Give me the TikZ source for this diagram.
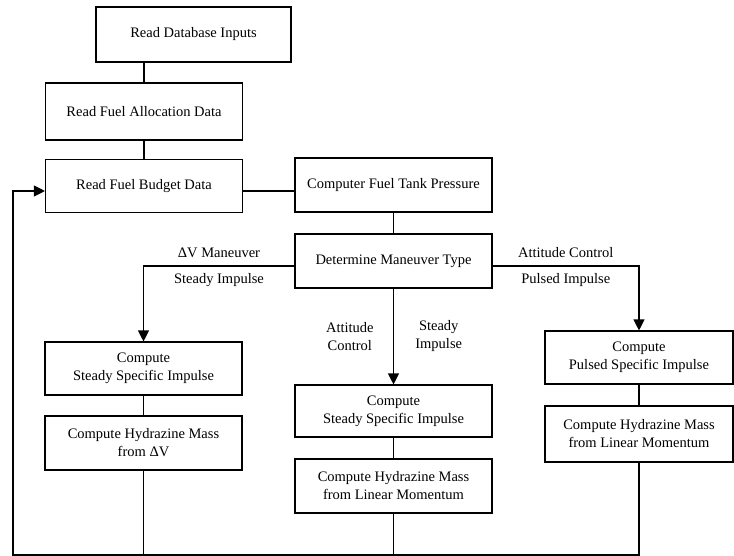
\documentclass[tikz,border=0pt]{standalone}
\usepackage{fontspec}
\setmainfont{Liberation Serif}
\usetikzlibrary{arrows.meta}

\begin{document}
\begin{tikzpicture}[x=1pt,y=-1pt,
  box/.style={draw, line width=1.1pt, minimum width=197pt, minimum height=54pt,
    align=center, inner sep=2pt, font=\fontsize{14.5}{18}\selectfont},
  lbl/.style={align=center, font=\fontsize{14.5}{18}\selectfont},
  flow/.style={line width=1.1pt},
  into/.style={flow, -{Triangle[length=11pt,width=11pt]}}]
  \useasboundingbox (0,0) rectangle (734,556);

  % draw the boxes of the upper column
  \node[box, minimum width=195pt, minimum height=55pt] (db) at (193.5,34.5) {Read Database Inputs};
  \node[box, minimum height=57pt] (alloc) at (144,111.5) {Read Fuel Allocation Data};
  \node[box, minimum height=53pt] (budget) at (144,186) {Read Fuel Budget Data};
  \node[box] (tank) at (393.5,185) {Computer Fuel Tank Pressure};
  \node[box] (type) at (393.5,261) {Determine Maneuver Type};

  % draw the three branches
  \node[box, minimum height=53pt] (lsteady) at (143.5,368.5) {Compute\\Steady Specific Impulse};
  \node[box] (lmass) at (143.5,443) {Compute Hydrazine Mass\\from ΔV};
  \node[box, minimum height=52pt] (csteady) at (393.5,411) {Compute\\Steady Specific Impulse};
  \node[box] (cmass) at (393.5,486) {Compute Hydrazine Mass\\from Linear Momentum};
  \node[box, minimum width=188pt, minimum height=53pt] (rpulsed) at (639,357.5) {Compute\\Pulsed Specific Impulse};
  \node[box, minimum width=188pt, minimum height=56pt] (rmass) at (639,434) {Compute Hydrazine Mass\\from Linear Momentum};
  \coordinate (ret) at (13,555);

  % connect them
  \draw[flow] (alloc.north) -- (alloc.north |- db.south);
  \draw[flow] (alloc) -- (budget);
  \draw[flow] ([yshift=-5pt]budget.east) -- ([yshift=-5pt]budget.east -| tank.west);
  \draw[flow] (tank) -- (type);
  \draw[into] ([yshift=-5pt]type.west) -| node[lbl, pos=0.25, above=4pt] {ΔV Maneuver}
    node[lbl, pos=0.25, below=4pt] {Steady Impulse} (lsteady.north);
  \draw[into] ([yshift=-5pt]type.east) -| node[lbl, pos=0.25, above=4pt] {Attitude Control}
    node[lbl, pos=0.25, below=4pt] {Pulsed Impulse} (rpulsed.north);
  \draw[into] (type) -- node[lbl, left=16pt] {Attitude\\Control}
    node[lbl, right=18pt] {Steady\\Impulse} (csteady);
  \draw[flow] (lsteady) -- (lmass);
  \draw[flow] (csteady) -- (cmass);
  \draw[flow] (rpulsed) -- (rmass);

  % loop back to the budget data
  \draw[flow] (lmass.south) -- (lmass.south |- ret);
  \draw[flow] (cmass.south) -- (cmass.south |- ret);
  \draw[into] (rmass.south) -- (rmass.south |- ret) -- (ret) |- ([yshift=-5pt]budget.west);
\end{tikzpicture}
\end{document}
